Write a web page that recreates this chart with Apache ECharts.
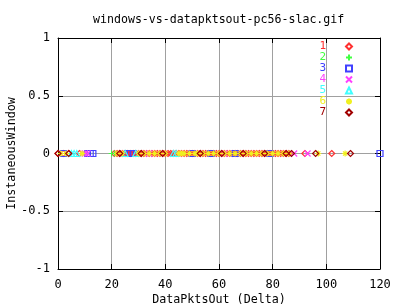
<!DOCTYPE html>
<html><head><meta charset="utf-8">
<script src="https://cdn.jsdelivr.net/npm/echarts@6/dist/echarts.min.js"></script>
<style>html,body{margin:0;padding:0;background:#fff}#c{width:400px;height:304px}</style>
</head><body><div id="c"></div>
<script>
const titleText = 'windows-vs-datapktsout-pc56-slac.gif';
const xName = 'DataPktsOut (Delta)';
const yName = 'InstaneousWindow';
const seriesNames = ['1','2','3','4','5','6','7'];
const seriesColors = ['#ff3030','#40ff40','#4040ff','#ff40ff','#40ffff','#f0f020','#a00000'];
const xTicks = [0,20,40,60,80,100,120];
const yTicks = [-1,-0.5,0,0.5,1];

// x values (DataPktsOut delta) of points for each series; all at InstaneousWindow = 0
const s1x = [0,2,4,8,21,22,23,24,25,26,27,28,29,30,31,32,33,34,35,36,37,38,39,40,41,42,43,44,45,46,47,48,49,50,51,52,53,54,55,56,57,58,59,60,61,62,63,64,65,66,67,68,69,70,71,72,73,74,75,76,77,78,79,80,81,82,83,84,85,86,92,102];
const s2x = [20,21];
const s3x = [2,11,12,13,26,27,28,50,57,66,79,120];
const s4x = [10,11,34,62,88,93];
const s5x = [5,6,7,25,29,43,44];
const s6x = [1,3,9,22,24,30,32,34,36,38,40,45,46,47,49,51,52,54,56,58,60,62,64,66,68,70,72,74,76,78,80,82,84,86,97,107];
const s7x = [0,4,23,31,39,53,61,69,77,85,87,96,109];
const allX = [s1x,s2x,s3x,s4x,s5x,s6x,s7x];

const symbols = [
  'diamond',
  'path://M0,-1L0,1M-1,0L1,0',
  'rect',
  'path://M-1,-1L1,1M-1,1L1,-1',
  'triangle',
  'path://M0,-1L0,1M-1,0L1,0M-0.7,-0.7L0.7,0.7M-0.7,0.7L0.7,-0.7',
  'diamond'
];

const font = 'DejaVu Sans Mono';
const chart = echarts.init(document.getElementById('c'), null, {renderer:'canvas'});

const series = allX.map((xs, i) => ({
  name: seriesNames[i],
  type: 'scatter',
  xAxisIndex: 0, yAxisIndex: 0,
  symbol: symbols[i],
  symbolSize: 6,
  data: xs.map(x => [x, 0]),
  itemStyle: { color: 'transparent', borderColor: seriesColors[i], borderWidth: 1.2, opacity: 1 },
  emphasis: { disabled: true },
  animation: false
}));

const axisCommon = {
  axisLine: { show: true, onZero: false, lineStyle: { color: '#000', width: 1 } },
  axisTick: { show: true, inside: true, length: 5, lineStyle: { color: '#000' } },
};

chart.setOption({
  animation: false,
  backgroundColor: '#fff',
  title: { text: titleText, left: 93, top: 14, padding: 0,
    textStyle: { fontFamily: font, fontSize: 11.6, fontWeight: 'normal', color: '#000' } },
  grid: { left: 58, right: 20, top: 38, bottom: 35, containLabel: false, outerBoundsMode: 'none' },
  legend: {
    orient: 'vertical', right: 47, top: 41, align: 'right', itemGap: 0,
    itemWidth: 6, itemHeight: 6, padding: 0,
    textStyle: { fontFamily: font, fontSize: 11, lineHeight: 11, padding: [0, 15, 0, 0] },
    data: seriesNames.map((n, i) => ({ name: n, textStyle: { color: seriesColors[i] } })),
    selectedMode: false
  },
  xAxis: [
    Object.assign({ type: 'value', min: 0, max: 120, interval: 20, position: 'bottom',
      name: xName, nameLocation: 'middle', nameGap: 25, nameMoveOverlap: false,
      nameTextStyle: { fontFamily: font, fontSize: 11.7, color: '#000' },
      axisLabel: { fontFamily: font, fontSize: 12, color: '#000', margin: 10 },
      splitLine: { show: true, lineStyle: { color: '#a0a0a0', width: 1 } } }, axisCommon),
    Object.assign({ type: 'value', min: 0, max: 120, interval: 20, position: 'top',
      axisLabel: { show: false }, splitLine: { show: false } }, axisCommon)
  ],
  yAxis: [
    Object.assign({ type: 'value', min: -1, max: 1, interval: 0.5, position: 'left',
      name: yName, nameLocation: 'middle', nameGap: 40, nameRotate: 90, nameMoveOverlap: false,
      nameTextStyle: { fontFamily: font, fontSize: 11.7, color: '#000' },
      axisLabel: { fontFamily: font, fontSize: 12, color: '#000', margin: 8 },
      splitLine: { show: true, lineStyle: { color: '#a0a0a0', width: 1 } } }, axisCommon),
    Object.assign({ type: 'value', min: -1, max: 1, interval: 0.5, position: 'right',
      axisLabel: { show: false }, splitLine: { show: false } }, axisCommon)
  ],
  series: series
});
</script></body></html>
